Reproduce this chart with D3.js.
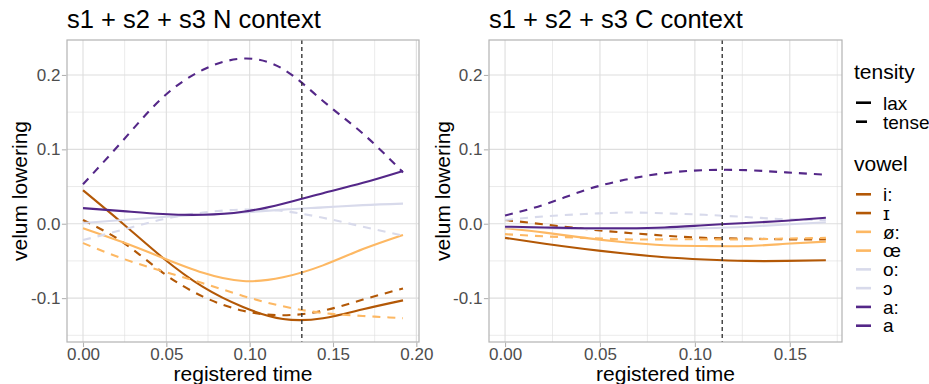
<!DOCTYPE html>
<html>
<head>
<meta charset="utf-8">
<script src="https://cdn.jsdelivr.net/npm/d3@7"></script>
<style>
	body { margin: 0; background: #ffffff; }
	svg { display: block; font-family: "Liberation Sans", Arial, sans-serif; }
</style>
</head>
<body>
<div id="chart"></div>
<script>

///////////////////////////////////////////////////////////////////////////
//////////////////////////////// The data /////////////////////////////////
///////////////////////////////////////////////////////////////////////////

var vowels = ["i:", "ɪ", "ø:", "œ", "o:", "ɔ", "a:", "a"];
var tensity = ["tense", "lax", "tense", "lax", "tense", "lax", "tense", "lax"];
var vowelColors = ["#b35806", "#b35806", "#fdb863", "#fdb863", "#d8daeb", "#d8daeb", "#542788", "#542788"];
var tensityLevels = ["lax", "tense"];

//N context
var timeN = [0, 0.024, 0.048, 0.072, 0.096, 0.12, 0.144, 0.168, 0.192];
var valuesN = [
	[ 0.005, -0.025, -0.066, -0.098, -0.117, -0.123, -0.117, -0.102, -0.087], //i:
	[ 0.045,  0.000, -0.046, -0.085, -0.112, -0.128, -0.127, -0.115, -0.103], //ɪ
	[-0.026, -0.047, -0.064, -0.080, -0.097, -0.111, -0.120, -0.124, -0.127], //ø:
	[-0.006, -0.025, -0.046, -0.066, -0.077, -0.072, -0.056, -0.034, -0.015], //œ
	[-0.022, -0.008,  0.006,  0.015,  0.019,  0.017,  0.008, -0.004, -0.016], //o:
	[ 0.001,  0.005,  0.009,  0.012,  0.015,  0.019,  0.022,  0.025,  0.027], //ɔ
	[ 0.053,  0.112,  0.170,  0.207,  0.222,  0.208,  0.165,  0.121,  0.069], //a:
	[ 0.021,  0.017,  0.013,  0.012,  0.016,  0.027,  0.041,  0.055,  0.071]  //a
];
var markerN = 0.1313;

//C context
var timeC = [0, 0.021, 0.042, 0.063, 0.084, 0.105, 0.127, 0.148, 0.169];
var valuesC = [
	[ 0.005, -0.001, -0.007, -0.012, -0.016, -0.019, -0.020, -0.021, -0.021], //i:
	[-0.019, -0.027, -0.034, -0.040, -0.045, -0.048, -0.050, -0.050, -0.049], //ɪ
	[-0.014, -0.017, -0.019, -0.021, -0.021, -0.021, -0.021, -0.020, -0.019], //ø:
	[-0.006, -0.012, -0.019, -0.025, -0.029, -0.030, -0.030, -0.027, -0.024], //œ
	[ 0.005,  0.010,  0.013,  0.015,  0.014,  0.012,  0.009,  0.006,  0.005], //o:
	[-0.005, -0.006, -0.007, -0.007, -0.007, -0.006, -0.004, -0.001,  0.002], //ɔ
	[ 0.011,  0.026,  0.045,  0.059,  0.068,  0.072,  0.072,  0.069,  0.066], //a:
	[-0.004, -0.005, -0.006, -0.006, -0.005, -0.002,  0.001,  0.004,  0.008]  //a
];
var markerC = 0.1144;

var yTicks = [-0.1, 0, 0.1, 0.2];
var yMinor = [-0.15, -0.05, 0.05, 0.15];
var xTicksN = [0, 0.05, 0.10, 0.15, 0.20];
var xTicksC = [0, 0.05, 0.10, 0.15];
var xMinor = [0.025, 0.075, 0.125, 0.175];

///////////////////////////////////////////////////////////////////////////
//////////////////// Set up and initiate svg containers ///////////////////
///////////////////////////////////////////////////////////////////////////

var width = 929,
	height = 384;

var svg = d3.select("#chart")
	.append("svg")
	.attr("width", width)
	.attr("height", height);

var yDomain = [-0.159, 0.247];
var panelTop = 40,
	panelBottom = 342;

var gridColor = "#dedede",
	borderColor = "#b3b3b3",
	tickTextColor = "#4d4d4d";

///////////////////////////////////////////////////////////////////////////
/////////////////////////////// Draw a panel //////////////////////////////
///////////////////////////////////////////////////////////////////////////

function drawPanel(opts) {
	var x = d3.scaleLinear()
		.domain(opts.xDomain)
		.range([opts.left, opts.right]);
	var y = d3.scaleLinear()
		.domain(yDomain)
		.range([panelBottom, panelTop]);

	var g = svg.append("g");

	//Grid lines
	g.selectAll(".yMinor")
		.data(yMinor)
		.enter().append("line")
		.attr("x1", opts.left).attr("x2", opts.right)
		.attr("y1", function(d) { return y(d); })
		.attr("y2", function(d) { return y(d); })
		.style("stroke", gridColor)
		.style("stroke-width", 0.6);

	g.selectAll(".xMinor")
		.data(xMinor.filter(function(d) { return d < opts.xDomain[1]; }))
		.enter().append("line")
		.attr("y1", panelTop).attr("y2", panelBottom)
		.attr("x1", function(d) { return x(d); })
		.attr("x2", function(d) { return x(d); })
		.style("stroke", gridColor)
		.style("stroke-width", 0.6);

	g.selectAll(".yMajor")
		.data(yTicks)
		.enter().append("line")
		.attr("x1", opts.left).attr("x2", opts.right)
		.attr("y1", function(d) { return y(d); })
		.attr("y2", function(d) { return y(d); })
		.style("stroke", gridColor)
		.style("stroke-width", 1.1);

	g.selectAll(".xMajor")
		.data(opts.xTicks)
		.enter().append("line")
		.attr("y1", panelTop).attr("y2", panelBottom)
		.attr("x1", function(d) { return x(d); })
		.attr("x2", function(d) { return x(d); })
		.style("stroke", gridColor)
		.style("stroke-width", 1.1);

	//Curves
	var clipId = "clip" + opts.id;
	svg.append("clipPath").attr("id", clipId)
		.append("rect")
		.attr("x", opts.left).attr("y", panelTop)
		.attr("width", opts.right - opts.left)
		.attr("height", panelBottom - panelTop);

	var line = d3.line()
		.curve(d3.curveNatural)
		.x(function(d, i) { return x(opts.time[i]); })
		.y(function(d) { return y(d); });

	g.append("g")
		.attr("clip-path", "url(#" + clipId + ")")
		.selectAll(".curve")
		.data(opts.values)
		.enter().append("path")
		.attr("class", "curve")
		.attr("d", line)
		.style("fill", "none")
		.style("stroke", function(d, i) { return vowelColors[i]; })
		.style("stroke-width", 2.1)
		.style("stroke-dasharray", function(d, i) { return tensity[i] === "tense" ? "8,7" : null; });

	//Vertical marker
	g.append("line")
		.attr("x1", x(opts.marker)).attr("x2", x(opts.marker))
		.attr("y1", panelTop).attr("y2", panelBottom)
		.style("stroke", "#2b2b2b")
		.style("stroke-width", 1.3)
		.style("stroke-dasharray", "4,3");

	//Panel border
	g.append("rect")
		.attr("x", opts.left).attr("y", panelTop)
		.attr("width", opts.right - opts.left)
		.attr("height", panelBottom - panelTop)
		.style("fill", "none")
		.style("stroke", borderColor)
		.style("stroke-width", 1.2);

	//Axes
	var xAxis = d3.axisBottom(x)
		.tickValues(opts.xTicks)
		.tickSize(4.5)
		.tickPadding(1)
		.tickFormat(d3.format(".2f"));
	var yAxis = d3.axisLeft(y)
		.tickValues(yTicks)
		.tickSize(4.5)
		.tickPadding(1.5)
		.tickFormat(function(d) { return d3.format(".1f")(d).replace("−", "-"); });

	var xg = g.append("g")
		.attr("transform", "translate(0," + (panelBottom + 0.6) + ")")
		.call(xAxis);
	var yg = g.append("g")
		.attr("transform", "translate(" + (opts.left - 0.6) + ",0)")
		.call(yAxis);

	[xg, yg].forEach(function(a) {
		a.select(".domain").remove();
		a.selectAll(".tick line").style("stroke", borderColor).style("stroke-width", 1.1);
		a.selectAll(".tick text")
			.style("font-family", "Liberation Sans, Arial, sans-serif")
			.style("font-size", "17px")
			.style("fill", tickTextColor);
	});

	//Titles
	svg.append("text")
		.attr("x", opts.left)
		.attr("y", 28)
		.style("font-size", "25.5px")
		.style("fill", "#000")
		.text(opts.title);

	svg.append("text")
		.attr("x", (opts.left + opts.right) / 2)
		.attr("y", 381)
		.attr("text-anchor", "middle")
		.style("font-size", "21px")
		.style("fill", "#000")
		.text("registered time");

	svg.append("text")
		.attr("transform", "translate(" + opts.yTitleX + "," + ((panelTop + panelBottom) / 2) + ")rotate(-90)")
		.attr("text-anchor", "middle")
		.style("font-size", "21px")
		.style("fill", "#000")
		.text("velum lowering");
}//drawPanel

drawPanel({
	id: "N",
	left: 67, right: 419,
	xDomain: [-0.0096, 0.2016],
	xTicks: xTicksN,
	time: timeN,
	values: valuesN,
	marker: markerN,
	title: "s1 + s2 + s3 N context",
	yTitleX: 27
});

drawPanel({
	id: "C",
	left: 489, right: 842,
	xDomain: [-0.00845, 0.1775],
	xTicks: xTicksC,
	time: timeC,
	values: valuesC,
	marker: markerC,
	title: "s1 + s2 + s3 C context",
	yTitleX: 450
});

///////////////////////////////////////////////////////////////////////////
//////////////////////////////// The legend ///////////////////////////////
///////////////////////////////////////////////////////////////////////////

var legend = svg.append("g");
var keyX0 = 856,
	keyX1 = 871,
	labelX = 883;

legend.append("text")
	.attr("x", 854).attr("y", 79)
	.style("font-size", "21px")
	.text("tensity");

tensityLevels.forEach(function(t, i) {
	var yy = 102.7 + i * 19;
	legend.append("line")
		.attr("x1", keyX0).attr("x2", keyX1)
		.attr("y1", yy).attr("y2", yy)
		.style("stroke", "#000")
		.style("stroke-width", 2.6)
		.style("stroke-dasharray", t === "tense" ? "11,20" : null);
	legend.append("text")
		.attr("x", labelX).attr("y", yy + 6.8)
		.style("font-size", "19px")
		.text(t);
});

legend.append("text")
	.attr("x", 854).attr("y", 171)
	.style("font-size", "21px")
	.text("vowel");

vowels.forEach(function(v, i) {
	var yy = 194.3 + i * 18.77;
	legend.append("line")
		.attr("x1", keyX0).attr("x2", keyX1)
		.attr("y1", yy).attr("y2", yy)
		.style("stroke", vowelColors[i])
		.style("stroke-width", 2.6);
	legend.append("text")
		.attr("x", labelX).attr("y", yy + 6.8)
		.style("font-size", "19px")
		.text(v);
});

</script>
</body>
</html>
